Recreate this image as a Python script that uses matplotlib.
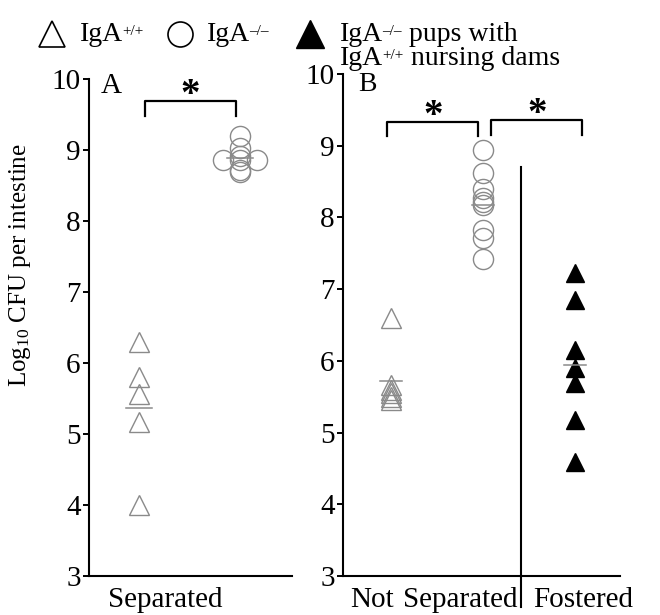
import numpy as np
import matplotlib.pyplot as plt

plt.rcParams['font.family'] = ['Liberation Serif', 'DejaVu Serif']
plt.rcParams['mathtext.fontset'] = 'custom'
plt.rcParams['mathtext.rm'] = 'Liberation Serif'
plt.rcParams['mathtext.it'] = 'Liberation Serif:italic'

# panel A, separated pups (log10 CFU per intestine)
sep_wt = [6.30, 5.80, 5.56, 5.17, 4.00]
sep_ko = [9.20, 9.03, 8.92, 8.86, 8.86, 8.86, 8.72, 8.69]
# panel B, not separated / fostered
notsep_wt = [6.60, 5.66, 5.59, 5.55, 5.50, 5.45]
notsep_ko = [8.94, 8.62, 8.40, 8.27, 8.22, 8.17, 7.83, 7.71, 7.42]
fostered_ko = [7.23, 6.85, 6.15, 5.90, 5.69, 5.18, 4.59]

yticks = [3, 4, 5, 6, 7, 8, 9, 10]
labels_a = ['Separated']
labels_b = ['Not', 'Separated', 'Fostered']

GREY = '#8a8a8a'
FS = 21

fig = plt.figure(figsize=(6.6, 6.15), dpi=100)
ax_a = fig.add_axes([0.1348, 0.0634, 0.3076, 0.8081])
ax_b = fig.add_axes([0.5197, 0.0634, 0.4197, 0.8163])


def style(ax):
    for s in ['top', 'right']:
        ax.spines[s].set_visible(False)
    for s in ['left', 'bottom']:
        ax.spines[s].set_linewidth(1.5)
    ax.set_ylim(3, 10)
    ax.set_yticks(yticks)
    ax.tick_params(axis='y', length=4, width=1.4, pad=2, labelsize=FS)
    ax.tick_params(axis='x', length=0, pad=8, labelsize=FS)


def mean_bar(ax, x, vals, half):
    ax.plot([x - half, x + half], [np.mean(vals)] * 2, color=GREY, lw=1.1)


def bracket(ax, x0, x1, ytop, ybot):
    ax.plot([x0, x0, x1, x1], [ybot, ytop, ytop, ybot], color='black', lw=1.6,
            clip_on=False)
    ax.text((x0 + x1) / 2, ytop - 0.06, '*', ha='center', va='baseline',
            fontsize=28, fontweight='bold')


open_tri = dict(marker='^', ls='none', mfc='none', mec=GREY, ms=15, mew=1.0)
open_circ = dict(marker='o', ls='none', mfc='none', mec=GREY, ms=14.5, mew=1.0)
full_tri = dict(marker='^', ls='none', mfc='black', mec='black', ms=12.5, mew=1.0)

# ---- panel A
style(ax_a)
ax_a.set_xlim(-0.495, 1.515)
jit = [0, 0, 0, -0.17, 0, 0.17, 0, 0]
ax_a.plot([0] * len(sep_wt), sep_wt, **open_tri)
ax_a.plot(np.ones(len(sep_ko)) + jit, sep_ko, **open_circ)
mean_bar(ax_a, 0, sep_wt, 0.125)
mean_bar(ax_a, 1, sep_ko, 0.125)
bracket(ax_a, 0.06, 0.96, 9.69, 9.48)
ax_a.set_xticks([0.26])
ax_a.set_xticklabels(labels_a)
ax_a.text(0.06, 0.985, 'A', transform=ax_a.transAxes, fontsize=FS, va='center')

# ---- panel B
style(ax_b)
ax_b.set_xlim(-0.52, 2.49)
ax_b.plot([0] * len(notsep_wt), notsep_wt, **open_tri)
ax_b.plot([1] * len(notsep_ko), notsep_ko, **open_circ)
ax_b.plot([2] * len(fostered_ko), fostered_ko, **full_tri)
mean_bar(ax_b, 0, notsep_wt, 0.12)
mean_bar(ax_b, 1, notsep_ko, 0.12)
mean_bar(ax_b, 2, fostered_ko, 0.12)
bracket(ax_b, -0.04, 0.95, 9.33, 9.14)
bracket(ax_b, 1.09, 2.08, 9.36, 9.15)
ax_b.plot([1.41, 1.41], [8.70, 2.57], color='black', lw=1.5, clip_on=False)
ax_b.set_xticks([-0.2, 0.75, 2.09])
ax_b.set_xticklabels(labels_b)
ax_b.text(0.054, 1.003, 'B', transform=ax_b.transAxes, fontsize=20, va='top')

fig.text(20 / 660, 1 - 265 / 615, 'Log$_{10}$ CFU per intestine', rotation=90,
         ha='center', va='center', fontsize=18)

# ---- legend across the top, drawn in pixel coordinates
lg = fig.add_axes([0, 0, 1, 1], zorder=-1)
lg.axis('off')
lg.set_xlim(0, 660)
lg.set_ylim(615, 0)
LFS = 20


def legend_text(x, y, base, sup, rest=''):
    t = lg.text(x, y, base, fontsize=LFS, va='baseline')
    s = lg.annotate(sup, xy=(1, 1), xycoords=t, xytext=(-0.5, -2.5),
                    textcoords='offset points', va='top', fontsize=11)
    if rest:
        lg.annotate(rest, xy=(1, 0), xycoords=(s, t), va='bottom',
                    fontsize=LFS)


lg.plot(52, 34, marker='^', mfc='none', mec='black', ms=19, mew=1.2)
lg.plot(180, 34, marker='o', mfc='none', mec='black', ms=18, mew=1.2)
lg.plot(310, 34, marker='^', mfc='black', mec='black', ms=20)
legend_text(80, 41, 'IgA', '+/+')
legend_text(207, 41, 'IgA', '\u2013/\u2013')
legend_text(340, 41, 'IgA', '\u2013/\u2013', ' pups with')
legend_text(340, 65, 'IgA', '+/+', ' nursing dams')

fig.savefig('out.png', dpi=100)
